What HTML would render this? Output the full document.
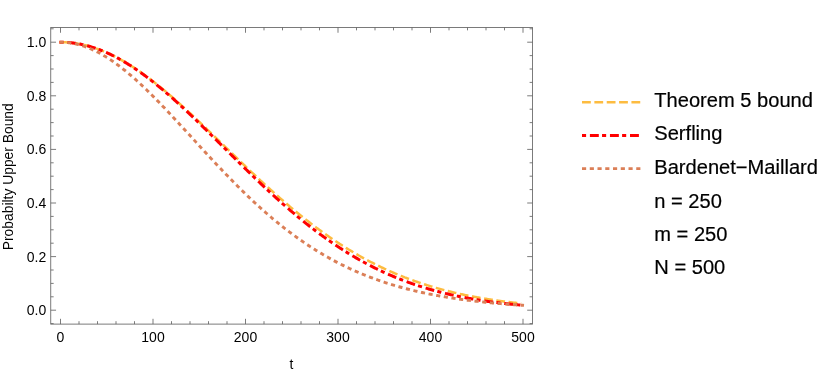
<!DOCTYPE html>
<html><head><meta charset="utf-8"><style>
html,body{margin:0;padding:0;background:#fff;}
body{position:relative;width:830px;height:374px;overflow:hidden;font-family:"Liberation Sans",sans-serif;}
svg{display:block;position:absolute;left:0;top:0;}
.t{position:absolute;white-space:nowrap;color:#000;}
.b{-webkit-text-stroke:0.2px #000;}
#w{position:absolute;left:0;top:0;width:830px;height:374px;will-change:transform;}
text{font-family:"Liberation Sans",sans-serif;fill:#000;}
</style></head><body><div id="w">
<svg width="830" height="374" viewBox="0 0 830 374">
<rect x="0" y="0" width="830" height="374" fill="#fff"/>
<g fill="none" stroke-linecap="butt" stroke-linejoin="round">
<path d="M59.48,42.21 L60.50,42.20 L61.42,42.20 L62.35,42.22 L63.27,42.24 L64.20,42.27 L65.12,42.31 L66.05,42.35 L66.97,42.41 L67.90,42.47 L68.83,42.55 L69.75,42.63 L70.67,42.72 L71.60,42.82 L72.53,42.92 L73.45,43.04 L74.38,43.16 L75.30,43.29 L76.22,43.43 L77.15,43.58 L78.08,43.74 L79.00,43.91 L79.92,44.08 L80.85,44.26 L81.78,44.45 L82.70,44.65 L83.62,44.86 L84.55,45.07 L85.47,45.30 L86.40,45.53 L87.33,45.77 L88.25,46.02 L89.17,46.27 L90.10,46.54 L91.03,46.81 L91.95,47.09 L92.88,47.38 L93.80,47.67 L94.72,47.98 L95.65,48.29 L96.58,48.61 L97.50,48.94 L98.43,49.27 L99.35,49.62 L100.28,49.97 L101.20,50.33 L102.12,50.69 L103.05,51.07 L103.97,51.45 L104.90,51.84 L105.83,52.24 L106.75,52.64 L107.68,53.05 L108.60,53.47 L109.53,53.90 L110.45,54.33 L111.38,54.77 L112.30,55.22 L113.22,55.68 L114.15,56.14 L115.08,56.61 L116.00,57.08 L116.93,57.57 L117.85,58.06 L118.78,58.56 L119.70,59.06 L120.62,59.57 L121.55,60.09 L122.47,60.61 L123.40,61.15 L124.33,61.68 L125.25,62.23 L126.17,62.78 L127.10,63.34 L128.03,63.90 L128.95,64.47 L129.88,65.05 L130.80,65.63 L131.73,66.22 L132.65,66.81 L133.57,67.41 L134.50,68.02 L135.43,68.63 L136.35,69.25 L137.28,69.88 L138.20,70.51 L139.12,71.14 L140.05,71.79 L140.98,72.43 L141.90,73.09 L142.82,73.75 L143.75,74.41 L144.68,75.08 L145.60,75.75 L146.53,76.43 L147.45,77.12 L148.38,77.81 L149.30,78.51 L150.23,79.21 L151.15,79.91 L152.07,80.62 L153.00,81.34 L153.93,82.06 L154.85,82.78 L155.78,83.51 L156.70,84.24 L157.62,84.98 L158.55,85.73 L159.48,86.47 L160.40,87.23 L161.32,87.98 L162.25,88.74 L163.18,89.51 L164.10,90.27 L165.03,91.05 L165.95,91.82 L166.88,92.60 L167.80,93.39 L168.73,94.17 L169.65,94.97 L170.57,95.76 L171.50,96.56 L172.43,97.36 L173.35,98.17 L174.28,98.98 L175.20,99.79 L176.12,100.60 L177.05,101.42 L177.98,102.24 L178.90,103.07 L179.82,103.90 L180.75,104.73 L181.68,105.56 L182.60,106.40 L183.53,107.24 L184.45,108.08 L185.38,108.92 L186.30,109.77 L187.23,110.62 L188.15,111.47 L189.08,112.32 L190.00,113.18 L190.93,114.04 L191.85,114.90 L192.78,115.76 L193.70,116.63 L194.62,117.49 L195.55,118.36 L196.47,119.23 L197.40,120.11 L198.33,120.98 L199.25,121.85 L200.18,122.73 L201.10,123.61 L202.03,124.49 L202.95,125.37 L203.88,126.25 L204.80,127.14 L205.72,128.02 L206.65,128.91 L207.58,129.80 L208.50,130.69 L209.43,131.57 L210.35,132.47 L211.28,133.36 L212.20,134.25 L213.12,135.14 L214.05,136.03 L214.97,136.93 L215.90,137.82 L216.83,138.72 L217.75,139.61 L218.68,140.51 L219.60,141.40 L220.53,142.30 L221.45,143.20 L222.38,144.09 L223.30,144.99 L224.22,145.89 L225.15,146.78 L226.08,147.68 L227.00,148.58 L227.93,149.47 L228.85,150.37 L229.78,151.26 L230.70,152.16 L231.62,153.05 L232.55,153.95 L233.47,154.84 L234.40,155.74 L235.33,156.63 L236.25,157.52 L237.18,158.41 L238.10,159.30 L239.03,160.19 L239.95,161.08 L240.88,161.97 L241.80,162.86 L242.73,163.74 L243.65,164.63 L244.58,165.51 L245.50,166.39 L246.43,167.28 L247.35,168.16 L248.28,169.03 L249.20,169.91 L250.12,170.79 L251.05,171.66 L251.98,172.54 L252.90,173.41 L253.83,174.28 L254.75,175.15 L255.68,176.01 L256.60,176.88 L257.52,177.74 L258.45,178.61 L259.38,179.47 L260.30,180.32 L261.23,181.18 L262.15,182.03 L263.08,182.89 L264.00,183.74 L264.93,184.59 L265.85,185.43 L266.77,186.28 L267.70,187.12 L268.62,187.96 L269.55,188.79 L270.48,189.63 L271.40,190.46 L272.33,191.29 L273.25,192.12 L274.18,192.95 L275.10,193.77 L276.02,194.59 L276.95,195.41 L277.88,196.23 L278.80,197.04 L279.73,197.85 L280.65,198.66 L281.58,199.47 L282.50,200.27 L283.43,201.07 L284.35,201.87 L285.27,202.66 L286.20,203.45 L287.12,204.24 L288.05,205.03 L288.98,205.81 L289.90,206.59 L290.83,207.37 L291.75,208.15 L292.68,208.92 L293.60,209.69 L294.52,210.45 L295.45,211.22 L296.38,211.98 L297.30,212.73 L298.23,213.49 L299.15,214.24 L300.08,214.98 L301.00,215.73 L301.93,216.47 L302.85,217.21 L303.77,217.94 L304.70,218.67 L305.62,219.40 L306.55,220.13 L307.48,220.85 L308.40,221.57 L309.33,222.28 L310.25,223.00 L311.18,223.70 L312.10,224.41 L313.02,225.11 L313.95,225.81 L314.88,226.51 L315.80,227.20 L316.73,227.89 L317.65,228.57 L318.57,229.25 L319.50,229.93 L320.43,230.60 L321.35,231.28 L322.28,231.94 L323.20,232.61 L324.12,233.27 L325.05,233.93 L325.98,234.58 L326.90,235.23 L327.82,235.88 L328.75,236.52 L329.68,237.16 L330.60,237.80 L331.53,238.43 L332.45,239.06 L333.38,239.68 L334.30,240.30 L335.23,240.92 L336.15,241.54 L337.07,242.15 L338.00,242.76 L338.93,243.36 L339.85,243.96 L340.78,244.56 L341.70,245.15 L342.62,245.74 L343.55,246.33 L344.48,246.91 L345.40,247.49 L346.32,248.07 L347.25,248.64 L348.18,249.21 L349.10,249.77 L350.03,250.33 L350.95,250.89 L351.88,251.44 L352.80,251.99 L353.73,252.54 L354.65,253.08 L355.57,253.62 L356.50,254.16 L357.43,254.69 L358.35,255.22 L359.28,255.75 L360.20,256.27 L361.12,256.79 L362.05,257.30 L362.98,257.81 L363.90,258.32 L364.82,258.82 L365.75,259.33 L366.68,259.82 L367.60,260.32 L368.53,260.81 L369.45,261.29 L370.38,261.78 L371.30,262.26 L372.23,262.73 L373.15,263.21 L374.07,263.68 L375.00,264.14 L375.93,264.60 L376.85,265.06 L377.78,265.52 L378.70,265.97 L379.62,266.42 L380.55,266.87 L381.48,267.31 L382.40,267.75 L383.32,268.18 L384.25,268.61 L385.18,269.04 L386.10,269.47 L387.03,269.89 L387.95,270.31 L388.88,270.72 L389.80,271.14 L390.73,271.55 L391.65,271.95 L392.57,272.35 L393.50,272.75 L394.43,273.15 L395.35,273.54 L396.28,273.93 L397.20,274.32 L398.12,274.70 L399.05,275.08 L399.98,275.46 L400.90,275.83 L401.82,276.20 L402.75,276.57 L403.68,276.93 L404.60,277.30 L405.53,277.65 L406.45,278.01 L407.38,278.36 L408.30,278.71 L409.23,279.06 L410.15,279.40 L411.07,279.74 L412.00,280.08 L412.93,280.41 L413.85,280.74 L414.78,281.07 L415.70,281.40 L416.62,281.72 L417.55,282.04 L418.48,282.36 L419.40,282.67 L420.33,282.98 L421.25,283.29 L422.18,283.60 L423.10,283.90 L424.03,284.20 L424.95,284.50 L425.88,284.79 L426.80,285.08 L427.73,285.37 L428.65,285.66 L429.58,285.94 L430.50,286.23 L431.43,286.50 L432.35,286.78 L433.28,287.05 L434.20,287.32 L435.12,287.59 L436.05,287.86 L436.98,288.12 L437.90,288.38 L438.83,288.64 L439.75,288.89 L440.68,289.15 L441.60,289.40 L442.53,289.65 L443.45,289.89 L444.38,290.14 L445.30,290.38 L446.23,290.61 L447.15,290.85 L448.08,291.08 L449.00,291.32 L449.93,291.54 L450.85,291.77 L451.78,292.00 L452.70,292.22 L453.62,292.44 L454.55,292.66 L455.48,292.87 L456.40,293.08 L457.33,293.30 L458.25,293.50 L459.18,293.71 L460.10,293.92 L461.03,294.12 L461.95,294.32 L462.88,294.52 L463.80,294.71 L464.73,294.91 L465.65,295.10 L466.58,295.29 L467.50,295.48 L468.43,295.66 L469.35,295.85 L470.28,296.03 L471.20,296.21 L472.12,296.39 L473.05,296.56 L473.98,296.74 L474.90,296.91 L475.83,297.08 L476.75,297.25 L477.68,297.42 L478.60,297.58 L479.53,297.75 L480.45,297.91 L481.38,298.07 L482.30,298.22 L483.23,298.38 L484.15,298.53 L485.08,298.69 L486.00,298.84 L486.93,298.99 L487.85,299.13 L488.78,299.28 L489.70,299.42 L490.62,299.57 L491.55,299.71 L492.48,299.85 L493.40,299.99 L494.33,300.12 L495.25,300.26 L496.18,300.39 L497.10,300.52 L498.03,300.65 L498.95,300.78 L499.88,300.91 L500.80,301.03 L501.73,301.16 L502.65,301.28 L503.58,301.40 L504.50,301.52 L505.43,301.64 L506.35,301.75 L507.28,301.87 L508.20,301.98 L509.12,302.10 L510.05,302.21 L510.98,302.32 L511.90,302.43 L512.83,302.53 L513.75,302.64 L514.67,302.74 L515.60,302.85 L516.53,302.95 L517.45,303.05 L518.38,303.15 L519.30,303.25 L520.23,303.35 L521.15,303.44" stroke="#FDBC40" stroke-width="2.5" stroke-dasharray="8.8 3.56"/>
<path d="M59.48,42.21 L60.50,42.20 L61.42,42.20 L62.35,42.22 L63.27,42.24 L64.20,42.27 L65.12,42.31 L66.05,42.35 L66.97,42.41 L67.90,42.47 L68.83,42.55 L69.75,42.63 L70.67,42.72 L71.60,42.82 L72.53,42.92 L73.45,43.04 L74.38,43.16 L75.30,43.30 L76.22,43.44 L77.15,43.59 L78.08,43.74 L79.00,43.91 L79.92,44.08 L80.85,44.27 L81.78,44.46 L82.70,44.66 L83.62,44.87 L84.55,45.08 L85.47,45.31 L86.40,45.54 L87.33,45.78 L88.25,46.03 L89.17,46.29 L90.10,46.56 L91.03,46.83 L91.95,47.11 L92.88,47.40 L93.80,47.70 L94.72,48.01 L95.65,48.32 L96.58,48.64 L97.50,48.97 L98.43,49.31 L99.35,49.66 L100.28,50.01 L101.20,50.37 L102.12,50.74 L103.05,51.12 L103.97,51.51 L104.90,51.90 L105.83,52.30 L106.75,52.71 L107.68,53.12 L108.60,53.55 L109.53,53.98 L110.45,54.42 L111.38,54.86 L112.30,55.32 L113.22,55.78 L114.15,56.24 L115.08,56.72 L116.00,57.20 L116.93,57.69 L117.85,58.19 L118.78,58.69 L119.70,59.20 L120.62,59.72 L121.55,60.24 L122.47,60.77 L123.40,61.31 L124.33,61.86 L125.25,62.41 L126.17,62.97 L127.10,63.53 L128.03,64.10 L128.95,64.68 L129.88,65.27 L130.80,65.86 L131.73,66.45 L132.65,67.06 L133.57,67.67 L134.50,68.28 L135.43,68.91 L136.35,69.54 L137.28,70.17 L138.20,70.81 L139.12,71.46 L140.05,72.11 L140.98,72.77 L141.90,73.43 L142.82,74.10 L143.75,74.78 L144.68,75.46 L145.60,76.14 L146.53,76.84 L147.45,77.53 L148.38,78.23 L149.30,78.94 L150.23,79.66 L151.15,80.37 L152.07,81.10 L153.00,81.83 L153.93,82.56 L154.85,83.30 L155.78,84.04 L156.70,84.79 L157.62,85.54 L158.55,86.30 L159.48,87.06 L160.40,87.83 L161.32,88.60 L162.25,89.37 L163.18,90.15 L164.10,90.93 L165.03,91.72 L165.95,92.51 L166.88,93.31 L167.80,94.11 L168.73,94.91 L169.65,95.72 L170.57,96.53 L171.50,97.35 L172.43,98.17 L173.35,98.99 L174.28,99.82 L175.20,100.65 L176.12,101.48 L177.05,102.32 L177.98,103.16 L178.90,104.00 L179.82,104.85 L180.75,105.70 L181.68,106.55 L182.60,107.40 L183.53,108.26 L184.45,109.12 L185.38,109.99 L186.30,110.85 L187.23,111.72 L188.15,112.59 L189.08,113.47 L190.00,114.34 L190.93,115.22 L191.85,116.10 L192.78,116.99 L193.70,117.87 L194.62,118.76 L195.55,119.65 L196.47,120.54 L197.40,121.43 L198.33,122.33 L199.25,123.22 L200.18,124.12 L201.10,125.02 L202.03,125.92 L202.95,126.83 L203.88,127.73 L204.80,128.64 L205.72,129.54 L206.65,130.45 L207.58,131.36 L208.50,132.27 L209.43,133.18 L210.35,134.09 L211.28,135.01 L212.20,135.92 L213.12,136.84 L214.05,137.75 L214.97,138.67 L215.90,139.59 L216.83,140.50 L217.75,141.42 L218.68,142.34 L219.60,143.26 L220.53,144.18 L221.45,145.10 L222.38,146.02 L223.30,146.94 L224.22,147.86 L225.15,148.77 L226.08,149.69 L227.00,150.61 L227.93,151.53 L228.85,152.45 L229.78,153.37 L230.70,154.29 L231.62,155.21 L232.55,156.12 L233.47,157.04 L234.40,157.96 L235.33,158.87 L236.25,159.79 L237.18,160.70 L238.10,161.61 L239.03,162.53 L239.95,163.44 L240.88,164.35 L241.80,165.26 L242.73,166.17 L243.65,167.07 L244.58,167.98 L245.50,168.89 L246.43,169.79 L247.35,170.69 L248.28,171.59 L249.20,172.49 L250.12,173.39 L251.05,174.29 L251.98,175.18 L252.90,176.08 L253.83,176.97 L254.75,177.86 L255.68,178.75 L256.60,179.63 L257.52,180.52 L258.45,181.40 L259.38,182.28 L260.30,183.16 L261.23,184.04 L262.15,184.91 L263.08,185.79 L264.00,186.66 L264.93,187.53 L265.85,188.39 L266.77,189.26 L267.70,190.12 L268.62,190.98 L269.55,191.84 L270.48,192.69 L271.40,193.54 L272.33,194.39 L273.25,195.24 L274.18,196.08 L275.10,196.93 L276.02,197.77 L276.95,198.60 L277.88,199.44 L278.80,200.27 L279.73,201.10 L280.65,201.92 L281.58,202.75 L282.50,203.57 L283.43,204.39 L284.35,205.20 L285.27,206.01 L286.20,206.82 L287.12,207.63 L288.05,208.43 L288.98,209.23 L289.90,210.02 L290.83,210.82 L291.75,211.61 L292.68,212.40 L293.60,213.18 L294.52,213.96 L295.45,214.74 L296.38,215.51 L297.30,216.28 L298.23,217.05 L299.15,217.82 L300.08,218.58 L301.00,219.33 L301.93,220.09 L302.85,220.84 L303.77,221.59 L304.70,222.33 L305.62,223.07 L306.55,223.81 L307.48,224.54 L308.40,225.27 L309.33,226.00 L310.25,226.72 L311.18,227.44 L312.10,228.16 L313.02,228.87 L313.95,229.58 L314.88,230.28 L315.80,230.98 L316.73,231.68 L317.65,232.38 L318.57,233.07 L319.50,233.75 L320.43,234.44 L321.35,235.12 L322.28,235.79 L323.20,236.46 L324.12,237.13 L325.05,237.80 L325.98,238.46 L326.90,239.11 L327.82,239.77 L328.75,240.42 L329.68,241.06 L330.60,241.70 L331.53,242.34 L332.45,242.98 L333.38,243.61 L334.30,244.23 L335.23,244.86 L336.15,245.48 L337.07,246.09 L338.00,246.70 L338.93,247.31 L339.85,247.91 L340.78,248.51 L341.70,249.11 L342.62,249.70 L343.55,250.29 L344.48,250.88 L345.40,251.46 L346.32,252.03 L347.25,252.61 L348.18,253.18 L349.10,253.74 L350.03,254.30 L350.95,254.86 L351.88,255.42 L352.80,255.97 L353.73,256.51 L354.65,257.06 L355.57,257.60 L356.50,258.13 L357.43,258.66 L358.35,259.19 L359.28,259.71 L360.20,260.23 L361.12,260.75 L362.05,261.26 L362.98,261.77 L363.90,262.27 L364.82,262.78 L365.75,263.27 L366.68,263.77 L367.60,264.26 L368.53,264.74 L369.45,265.23 L370.38,265.70 L371.30,266.18 L372.23,266.65 L373.15,267.12 L374.07,267.58 L375.00,268.04 L375.93,268.50 L376.85,268.95 L377.78,269.40 L378.70,269.85 L379.62,270.29 L380.55,270.73 L381.48,271.17 L382.40,271.60 L383.32,272.03 L384.25,272.45 L385.18,272.87 L386.10,273.29 L387.03,273.70 L387.95,274.11 L388.88,274.52 L389.80,274.92 L390.73,275.32 L391.65,275.72 L392.57,276.11 L393.50,276.50 L394.43,276.89 L395.35,277.27 L396.28,277.65 L397.20,278.03 L398.12,278.40 L399.05,278.77 L399.98,279.14 L400.90,279.50 L401.82,279.86 L402.75,280.22 L403.68,280.57 L404.60,280.92 L405.53,281.27 L406.45,281.61 L407.38,281.95 L408.30,282.29 L409.23,282.62 L410.15,282.96 L411.07,283.28 L412.00,283.61 L412.93,283.93 L413.85,284.25 L414.78,284.56 L415.70,284.88 L416.62,285.19 L417.55,285.49 L418.48,285.80 L419.40,286.10 L420.33,286.40 L421.25,286.69 L422.18,286.98 L423.10,287.27 L424.03,287.56 L424.95,287.84 L425.88,288.12 L426.80,288.40 L427.73,288.67 L428.65,288.95 L429.58,289.22 L430.50,289.48 L431.43,289.75 L432.35,290.01 L433.28,290.27 L434.20,290.52 L435.12,290.77 L436.05,291.02 L436.98,291.27 L437.90,291.52 L438.83,291.76 L439.75,292.00 L440.68,292.24 L441.60,292.47 L442.53,292.71 L443.45,292.94 L444.38,293.16 L445.30,293.39 L446.23,293.61 L447.15,293.83 L448.08,294.05 L449.00,294.26 L449.93,294.48 L450.85,294.69 L451.78,294.90 L452.70,295.10 L453.62,295.31 L454.55,295.51 L455.48,295.71 L456.40,295.90 L457.33,296.10 L458.25,296.29 L459.18,296.48 L460.10,296.67 L461.03,296.85 L461.95,297.04 L462.88,297.22 L463.80,297.40 L464.73,297.58 L465.65,297.75 L466.58,297.93 L467.50,298.10 L468.43,298.27 L469.35,298.43 L470.28,298.60 L471.20,298.76 L472.12,298.93 L473.05,299.08 L473.98,299.24 L474.90,299.40 L475.83,299.55 L476.75,299.70 L477.68,299.85 L478.60,300.00 L479.53,300.15 L480.45,300.29 L481.38,300.44 L482.30,300.58 L483.23,300.72 L484.15,300.86 L485.08,300.99 L486.00,301.13 L486.93,301.26 L487.85,301.39 L488.78,301.52 L489.70,301.65 L490.62,301.77 L491.55,301.90 L492.48,302.02 L493.40,302.14 L494.33,302.26 L495.25,302.38 L496.18,302.50 L497.10,302.61 L498.03,302.73 L498.95,302.84 L499.88,302.95 L500.80,303.06 L501.73,303.17 L502.65,303.27 L503.58,303.38 L504.50,303.48 L505.43,303.59 L506.35,303.69 L507.28,303.79 L508.20,303.89 L509.12,303.98 L510.05,304.08 L510.98,304.17 L511.90,304.27 L512.83,304.36 L513.75,304.45 L514.67,304.54 L515.60,304.63 L516.53,304.71 L517.45,304.80 L518.38,304.88 L519.30,304.97 L520.23,305.05 L521.15,305.13 L522.08,305.21 L523.00,305.29 L524.02,305.38" stroke="#FF0000" stroke-width="3" stroke-dasharray="4.1 3.8 8.9 3.25"/>
<path d="M59.48,42.21 L60.50,42.20 L61.42,42.21 L62.35,42.23 L63.27,42.26 L64.20,42.30 L65.12,42.36 L66.05,42.43 L66.97,42.52 L67.90,42.61 L68.83,42.72 L69.75,42.84 L70.67,42.98 L71.60,43.12 L72.53,43.28 L73.45,43.45 L74.38,43.64 L75.30,43.83 L76.22,44.04 L77.15,44.26 L78.08,44.49 L79.00,44.74 L79.92,45.00 L80.85,45.26 L81.78,45.55 L82.70,45.84 L83.62,46.14 L84.55,46.46 L85.47,46.79 L86.40,47.13 L87.33,47.48 L88.25,47.84 L89.17,48.21 L90.10,48.60 L91.03,48.99 L91.95,49.40 L92.88,49.82 L93.80,50.25 L94.72,50.69 L95.65,51.14 L96.58,51.60 L97.50,52.08 L98.43,52.56 L99.35,53.05 L100.28,53.56 L101.20,54.07 L102.12,54.60 L103.05,55.13 L103.97,55.68 L104.90,56.23 L105.83,56.79 L106.75,57.37 L107.68,57.95 L108.60,58.55 L109.53,59.15 L110.45,59.76 L111.38,60.38 L112.30,61.01 L113.22,61.65 L114.15,62.30 L115.08,62.96 L116.00,63.62 L116.93,64.30 L117.85,64.98 L118.78,65.67 L119.70,66.37 L120.62,67.08 L121.55,67.80 L122.47,68.52 L123.40,69.26 L124.33,70.00 L125.25,70.74 L126.17,71.50 L127.10,72.26 L128.03,73.03 L128.95,73.81 L129.88,74.59 L130.80,75.38 L131.73,76.18 L132.65,76.99 L133.57,77.80 L134.50,78.62 L135.43,79.44 L136.35,80.27 L137.28,81.11 L138.20,81.95 L139.12,82.80 L140.05,83.66 L140.98,84.52 L141.90,85.39 L142.82,86.26 L143.75,87.14 L144.68,88.02 L145.60,88.91 L146.53,89.80 L147.45,90.70 L148.38,91.60 L149.30,92.51 L150.23,93.42 L151.15,94.34 L152.07,95.26 L153.00,96.19 L153.93,97.12 L154.85,98.05 L155.78,98.99 L156.70,99.93 L157.62,100.88 L158.55,101.83 L159.48,102.78 L160.40,103.74 L161.32,104.70 L162.25,105.66 L163.18,106.63 L164.10,107.60 L165.03,108.57 L165.95,109.55 L166.88,110.52 L167.80,111.50 L168.73,112.49 L169.65,113.47 L170.57,114.46 L171.50,115.45 L172.43,116.44 L173.35,117.44 L174.28,118.43 L175.20,119.43 L176.12,120.43 L177.05,121.43 L177.98,122.43 L178.90,123.43 L179.82,124.44 L180.75,125.45 L181.68,126.45 L182.60,127.46 L183.53,128.47 L184.45,129.48 L185.38,130.49 L186.30,131.50 L187.23,132.51 L188.15,133.53 L189.08,134.54 L190.00,135.55 L190.93,136.56 L191.85,137.58 L192.78,138.59 L193.70,139.60 L194.62,140.62 L195.55,141.63 L196.47,142.64 L197.40,143.65 L198.33,144.66 L199.25,145.67 L200.18,146.68 L201.10,147.69 L202.03,148.70 L202.95,149.71 L203.88,150.72 L204.80,151.72 L205.72,152.73 L206.65,153.73 L207.58,154.73 L208.50,155.73 L209.43,156.73 L210.35,157.73 L211.28,158.72 L212.20,159.72 L213.12,160.71 L214.05,161.70 L214.97,162.69 L215.90,163.68 L216.83,164.66 L217.75,165.65 L218.68,166.63 L219.60,167.61 L220.53,168.58 L221.45,169.56 L222.38,170.53 L223.30,171.50 L224.22,172.47 L225.15,173.43 L226.08,174.39 L227.00,175.35 L227.93,176.31 L228.85,177.26 L229.78,178.22 L230.70,179.16 L231.62,180.11 L232.55,181.05 L233.47,181.99 L234.40,182.93 L235.33,183.86 L236.25,184.79 L237.18,185.72 L238.10,186.65 L239.03,187.57 L239.95,188.48 L240.88,189.40 L241.80,190.31 L242.73,191.22 L243.65,192.12 L244.58,193.02 L245.50,193.92 L246.43,194.81 L247.35,195.70 L248.28,196.59 L249.20,197.47 L250.12,198.35 L251.05,199.23 L251.98,200.10 L252.90,200.97 L253.83,201.83 L254.75,202.69 L255.68,203.55 L256.60,204.40 L257.52,205.25 L258.45,206.09 L259.38,206.93 L260.30,207.77 L261.23,208.60 L262.15,209.43 L263.08,210.26 L264.00,211.08 L264.93,211.89 L265.85,212.71 L266.77,213.52 L267.70,214.32 L268.62,215.12 L269.55,215.91 L270.48,216.71 L271.40,217.49 L272.33,218.28 L273.25,219.06 L274.18,219.83 L275.10,220.60 L276.02,221.37 L276.95,222.13 L277.88,222.88 L278.80,223.64 L279.73,224.39 L280.65,225.13 L281.58,225.87 L282.50,226.61 L283.43,227.34 L284.35,228.07 L285.27,228.79 L286.20,229.51 L287.12,230.22 L288.05,230.93 L288.98,231.63 L289.90,232.34 L290.83,233.03 L291.75,233.72 L292.68,234.41 L293.60,235.09 L294.52,235.77 L295.45,236.45 L296.38,237.12 L297.30,237.78 L298.23,238.44 L299.15,239.10 L300.08,239.75 L301.00,240.40 L301.93,241.04 L302.85,241.68 L303.77,242.32 L304.70,242.95 L305.62,243.58 L306.55,244.20 L307.48,244.82 L308.40,245.43 L309.33,246.04 L310.25,246.64 L311.18,247.24 L312.10,247.84 L313.02,248.43 L313.95,249.02 L314.88,249.60 L315.80,250.18 L316.73,250.75 L317.65,251.32 L318.57,251.89 L319.50,252.45 L320.43,253.01 L321.35,253.56 L322.28,254.11 L323.20,254.66 L324.12,255.20 L325.05,255.73 L325.98,256.27 L326.90,256.80 L327.82,257.32 L328.75,257.84 L329.68,258.36 L330.60,258.87 L331.53,259.38 L332.45,259.88 L333.38,260.38 L334.30,260.88 L335.23,261.37 L336.15,261.86 L337.07,262.34 L338.00,262.82 L338.93,263.30 L339.85,263.77 L340.78,264.24 L341.70,264.70 L342.62,265.16 L343.55,265.62 L344.48,266.07 L345.40,266.52 L346.32,266.97 L347.25,267.41 L348.18,267.85 L349.10,268.28 L350.03,268.71 L350.95,269.14 L351.88,269.56 L352.80,269.98 L353.73,270.40 L354.65,270.81 L355.57,271.22 L356.50,271.62 L357.43,272.03 L358.35,272.42 L359.28,272.82 L360.20,273.21 L361.12,273.60 L362.05,273.98 L362.98,274.36 L363.90,274.74 L364.82,275.11 L365.75,275.48 L366.68,275.85 L367.60,276.21 L368.53,276.57 L369.45,276.93 L370.38,277.28 L371.30,277.63 L372.23,277.98 L373.15,278.33 L374.07,278.67 L375.00,279.00 L375.93,279.34 L376.85,279.67 L377.78,280.00 L378.70,280.32 L379.62,280.65 L380.55,280.97 L381.48,281.28 L382.40,281.60 L383.32,281.91 L384.25,282.21 L385.18,282.52 L386.10,282.82 L387.03,283.12 L387.95,283.41 L388.88,283.71 L389.80,284.00 L390.73,284.28 L391.65,284.57 L392.57,284.85 L393.50,285.13 L394.43,285.40 L395.35,285.68 L396.28,285.95 L397.20,286.21 L398.12,286.48 L399.05,286.74 L399.98,287.00 L400.90,287.26 L401.82,287.51 L402.75,287.77 L403.68,288.02 L404.60,288.26 L405.53,288.51 L406.45,288.75 L407.38,288.99 L408.30,289.23 L409.23,289.46 L410.15,289.70 L411.07,289.93 L412.00,290.15 L412.93,290.38 L413.85,290.60 L414.78,290.82 L415.70,291.04 L416.62,291.26 L417.55,291.47 L418.48,291.68 L419.40,291.89 L420.33,292.10 L421.25,292.31 L422.18,292.51 L423.10,292.71 L424.03,292.91 L424.95,293.11 L425.88,293.30 L426.80,293.49 L427.73,293.68 L428.65,293.87 L429.58,294.06 L430.50,294.24 L431.43,294.43 L432.35,294.61 L433.28,294.79 L434.20,294.96 L435.12,295.14 L436.05,295.31 L436.98,295.48 L437.90,295.65 L438.83,295.82 L439.75,295.99 L440.68,296.15 L441.60,296.31 L442.53,296.47 L443.45,296.63 L444.38,296.79 L445.30,296.94 L446.23,297.10 L447.15,297.25 L448.08,297.40 L449.00,297.55 L449.93,297.69 L450.85,297.84 L451.78,297.98 L452.70,298.13 L453.62,298.27 L454.55,298.41 L455.48,298.54 L456.40,298.68 L457.33,298.81 L458.25,298.95 L459.18,299.08 L460.10,299.21 L461.03,299.34 L461.95,299.46 L462.88,299.59 L463.80,299.71 L464.73,299.84 L465.65,299.96 L466.58,300.08 L467.50,300.20 L468.43,300.31 L469.35,300.43 L470.28,300.54 L471.20,300.66 L472.12,300.77 L473.05,300.88 L473.98,300.99 L474.90,301.10 L475.83,301.21 L476.75,301.31 L477.68,301.42 L478.60,301.52 L479.53,301.62 L480.45,301.72 L481.38,301.82 L482.30,301.92 L483.23,302.02 L484.15,302.12 L485.08,302.21 L486.00,302.31 L486.93,302.40 L487.85,302.49 L488.78,302.58 L489.70,302.68 L490.62,302.76 L491.55,302.85 L492.48,302.94 L493.40,303.03 L494.33,303.11 L495.25,303.19 L496.18,303.28 L497.10,303.36 L498.03,303.44 L498.95,303.52 L499.88,303.60 L500.80,303.68 L501.73,303.76 L502.65,303.83 L503.58,303.91 L504.50,303.98 L505.43,304.06 L506.35,304.13 L507.28,304.20 L508.20,304.27 L509.12,304.34 L510.05,304.41 L510.98,304.48 L511.90,304.55 L512.83,304.62 L513.75,304.68 L514.67,304.75 L515.60,304.81 L516.53,304.88 L517.45,304.94 L518.38,305.00 L519.30,305.07 L520.23,305.13 L521.15,305.19 L522.08,305.25 L523.00,305.30 L524.02,305.37" stroke="#DB7F57" stroke-width="2.9" stroke-dasharray="4.15 3.6"/>
</g>
<g stroke="#646464" stroke-width="0.85" fill="none">
<rect x="50.75" y="27.45" width="481.75" height="296.65"/>
<line x1="60.50" y1="324.10" x2="60.50" y2="318.80"/>
<line x1="60.50" y1="27.45" x2="60.50" y2="32.75"/>
<line x1="79.00" y1="324.10" x2="79.00" y2="321.20"/>
<line x1="79.00" y1="27.45" x2="79.00" y2="30.35"/>
<line x1="97.50" y1="324.10" x2="97.50" y2="321.20"/>
<line x1="97.50" y1="27.45" x2="97.50" y2="30.35"/>
<line x1="116.00" y1="324.10" x2="116.00" y2="321.20"/>
<line x1="116.00" y1="27.45" x2="116.00" y2="30.35"/>
<line x1="134.50" y1="324.10" x2="134.50" y2="321.20"/>
<line x1="134.50" y1="27.45" x2="134.50" y2="30.35"/>
<line x1="153.00" y1="324.10" x2="153.00" y2="318.80"/>
<line x1="153.00" y1="27.45" x2="153.00" y2="32.75"/>
<line x1="171.50" y1="324.10" x2="171.50" y2="321.20"/>
<line x1="171.50" y1="27.45" x2="171.50" y2="30.35"/>
<line x1="190.00" y1="324.10" x2="190.00" y2="321.20"/>
<line x1="190.00" y1="27.45" x2="190.00" y2="30.35"/>
<line x1="208.50" y1="324.10" x2="208.50" y2="321.20"/>
<line x1="208.50" y1="27.45" x2="208.50" y2="30.35"/>
<line x1="227.00" y1="324.10" x2="227.00" y2="321.20"/>
<line x1="227.00" y1="27.45" x2="227.00" y2="30.35"/>
<line x1="245.50" y1="324.10" x2="245.50" y2="318.80"/>
<line x1="245.50" y1="27.45" x2="245.50" y2="32.75"/>
<line x1="264.00" y1="324.10" x2="264.00" y2="321.20"/>
<line x1="264.00" y1="27.45" x2="264.00" y2="30.35"/>
<line x1="282.50" y1="324.10" x2="282.50" y2="321.20"/>
<line x1="282.50" y1="27.45" x2="282.50" y2="30.35"/>
<line x1="301.00" y1="324.10" x2="301.00" y2="321.20"/>
<line x1="301.00" y1="27.45" x2="301.00" y2="30.35"/>
<line x1="319.50" y1="324.10" x2="319.50" y2="321.20"/>
<line x1="319.50" y1="27.45" x2="319.50" y2="30.35"/>
<line x1="338.00" y1="324.10" x2="338.00" y2="318.80"/>
<line x1="338.00" y1="27.45" x2="338.00" y2="32.75"/>
<line x1="356.50" y1="324.10" x2="356.50" y2="321.20"/>
<line x1="356.50" y1="27.45" x2="356.50" y2="30.35"/>
<line x1="375.00" y1="324.10" x2="375.00" y2="321.20"/>
<line x1="375.00" y1="27.45" x2="375.00" y2="30.35"/>
<line x1="393.50" y1="324.10" x2="393.50" y2="321.20"/>
<line x1="393.50" y1="27.45" x2="393.50" y2="30.35"/>
<line x1="412.00" y1="324.10" x2="412.00" y2="321.20"/>
<line x1="412.00" y1="27.45" x2="412.00" y2="30.35"/>
<line x1="430.50" y1="324.10" x2="430.50" y2="318.80"/>
<line x1="430.50" y1="27.45" x2="430.50" y2="32.75"/>
<line x1="449.00" y1="324.10" x2="449.00" y2="321.20"/>
<line x1="449.00" y1="27.45" x2="449.00" y2="30.35"/>
<line x1="467.50" y1="324.10" x2="467.50" y2="321.20"/>
<line x1="467.50" y1="27.45" x2="467.50" y2="30.35"/>
<line x1="486.00" y1="324.10" x2="486.00" y2="321.20"/>
<line x1="486.00" y1="27.45" x2="486.00" y2="30.35"/>
<line x1="504.50" y1="324.10" x2="504.50" y2="321.20"/>
<line x1="504.50" y1="27.45" x2="504.50" y2="30.35"/>
<line x1="523.00" y1="324.10" x2="523.00" y2="318.80"/>
<line x1="523.00" y1="27.45" x2="523.00" y2="32.75"/>
<line x1="50.75" y1="323.60" x2="53.65" y2="323.60"/>
<line x1="532.50" y1="323.60" x2="529.60" y2="323.60"/>
<line x1="50.75" y1="310.20" x2="56.05" y2="310.20"/>
<line x1="532.50" y1="310.20" x2="527.20" y2="310.20"/>
<line x1="50.75" y1="296.80" x2="53.65" y2="296.80"/>
<line x1="532.50" y1="296.80" x2="529.60" y2="296.80"/>
<line x1="50.75" y1="283.40" x2="53.65" y2="283.40"/>
<line x1="532.50" y1="283.40" x2="529.60" y2="283.40"/>
<line x1="50.75" y1="270.00" x2="53.65" y2="270.00"/>
<line x1="532.50" y1="270.00" x2="529.60" y2="270.00"/>
<line x1="50.75" y1="256.60" x2="56.05" y2="256.60"/>
<line x1="532.50" y1="256.60" x2="527.20" y2="256.60"/>
<line x1="50.75" y1="243.20" x2="53.65" y2="243.20"/>
<line x1="532.50" y1="243.20" x2="529.60" y2="243.20"/>
<line x1="50.75" y1="229.80" x2="53.65" y2="229.80"/>
<line x1="532.50" y1="229.80" x2="529.60" y2="229.80"/>
<line x1="50.75" y1="216.40" x2="53.65" y2="216.40"/>
<line x1="532.50" y1="216.40" x2="529.60" y2="216.40"/>
<line x1="50.75" y1="203.00" x2="56.05" y2="203.00"/>
<line x1="532.50" y1="203.00" x2="527.20" y2="203.00"/>
<line x1="50.75" y1="189.60" x2="53.65" y2="189.60"/>
<line x1="532.50" y1="189.60" x2="529.60" y2="189.60"/>
<line x1="50.75" y1="176.20" x2="53.65" y2="176.20"/>
<line x1="532.50" y1="176.20" x2="529.60" y2="176.20"/>
<line x1="50.75" y1="162.80" x2="53.65" y2="162.80"/>
<line x1="532.50" y1="162.80" x2="529.60" y2="162.80"/>
<line x1="50.75" y1="149.40" x2="56.05" y2="149.40"/>
<line x1="532.50" y1="149.40" x2="527.20" y2="149.40"/>
<line x1="50.75" y1="136.00" x2="53.65" y2="136.00"/>
<line x1="532.50" y1="136.00" x2="529.60" y2="136.00"/>
<line x1="50.75" y1="122.60" x2="53.65" y2="122.60"/>
<line x1="532.50" y1="122.60" x2="529.60" y2="122.60"/>
<line x1="50.75" y1="109.20" x2="53.65" y2="109.20"/>
<line x1="532.50" y1="109.20" x2="529.60" y2="109.20"/>
<line x1="50.75" y1="95.80" x2="56.05" y2="95.80"/>
<line x1="532.50" y1="95.80" x2="527.20" y2="95.80"/>
<line x1="50.75" y1="82.40" x2="53.65" y2="82.40"/>
<line x1="532.50" y1="82.40" x2="529.60" y2="82.40"/>
<line x1="50.75" y1="69.00" x2="53.65" y2="69.00"/>
<line x1="532.50" y1="69.00" x2="529.60" y2="69.00"/>
<line x1="50.75" y1="55.60" x2="53.65" y2="55.60"/>
<line x1="532.50" y1="55.60" x2="529.60" y2="55.60"/>
<line x1="50.75" y1="42.20" x2="56.05" y2="42.20"/>
<line x1="532.50" y1="42.20" x2="527.20" y2="42.20"/>
<line x1="50.75" y1="28.80" x2="53.65" y2="28.80"/>
<line x1="532.50" y1="28.80" x2="529.60" y2="28.80"/>
</g>
<g fill="none" stroke-linecap="butt">
<line x1="582" y1="102.2" x2="640.5" y2="102.2" stroke="#FDBC40" stroke-width="2.5" stroke-dasharray="8.8 3.56"/>
<line x1="582" y1="135.4" x2="640.5" y2="135.4" stroke="#FF0000" stroke-width="3" stroke-dasharray="4.1 3.8 8.9 3.25"/>
<line x1="582" y1="168.6" x2="640.5" y2="168.6" stroke="#DB7F57" stroke-width="2.9" stroke-dasharray="4.15 3.6"/>
</g>
</svg>
<div class="t" style="left:60.50px;width:200px;margin-left:-100px;text-align:center;top:330.15px;font-size:14px;line-height:14px;">0</div><div class="t" style="left:153.00px;width:200px;margin-left:-100px;text-align:center;top:330.15px;font-size:14px;line-height:14px;">100</div><div class="t" style="left:245.50px;width:200px;margin-left:-100px;text-align:center;top:330.15px;font-size:14px;line-height:14px;">200</div><div class="t" style="left:338.00px;width:200px;margin-left:-100px;text-align:center;top:330.15px;font-size:14px;line-height:14px;">300</div><div class="t" style="left:430.50px;width:200px;margin-left:-100px;text-align:center;top:330.15px;font-size:14px;line-height:14px;">400</div><div class="t" style="left:523.00px;width:200px;margin-left:-100px;text-align:center;top:330.15px;font-size:14px;line-height:14px;">500</div><div class="t" style="right:783.80px;top:303.15px;font-size:14px;line-height:14px;">0.0</div><div class="t" style="right:783.80px;top:249.55px;font-size:14px;line-height:14px;">0.2</div><div class="t" style="right:783.80px;top:195.95px;font-size:14px;line-height:14px;">0.4</div><div class="t" style="right:783.80px;top:142.35px;font-size:14px;line-height:14px;">0.6</div><div class="t" style="right:783.80px;top:88.75px;font-size:14px;line-height:14px;">0.8</div><div class="t" style="right:783.80px;top:35.15px;font-size:14px;line-height:14px;">1.0</div><div class="t b" style="left:654.30px;top:90.09px;font-size:20.1px;line-height:20.1px;">Theorem 5 bound</div><div class="t b" style="left:654.30px;top:123.49px;font-size:20.1px;line-height:20.1px;">Serfling</div><div class="t b" style="left:654.30px;top:157.09px;font-size:20.1px;line-height:20.1px;">Bardenet−Maillard</div><div class="t b" style="left:654.30px;top:190.59px;font-size:20.1px;line-height:20.1px;">n = 250</div><div class="t b" style="left:654.30px;top:223.99px;font-size:20.1px;line-height:20.1px;">m = 250</div><div class="t b" style="left:654.30px;top:257.49px;font-size:20.1px;line-height:20.1px;">N = 500</div><div class="t" style="left:291.40px;width:200px;margin-left:-100px;text-align:center;top:358.22px;font-size:13.8px;line-height:13.8px;">t</div><div class="t" style="left:13.90px;top:164.88px;width:200px;margin-left:-100px;text-align:center;font-size:13.85px;line-height:13.85px;transform-origin:50% 11.724px;transform:rotate(-90deg);">Probabilty Upper Bound</div>
</div></body></html>
